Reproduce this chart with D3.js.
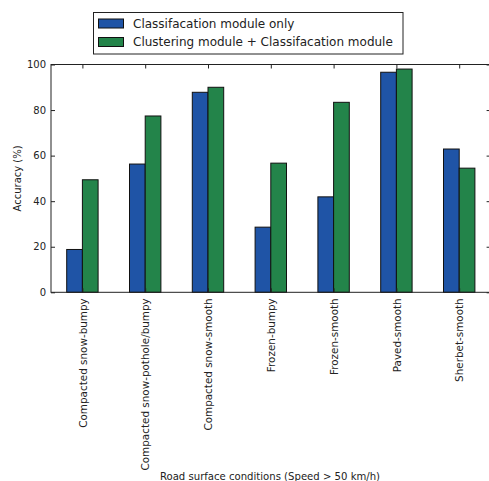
<!DOCTYPE html>
<html>
<head>
<meta charset="utf-8">
<script src="https://cdn.jsdelivr.net/npm/d3@7"></script>
<style>
  html, body { margin: 0; padding: 0; background: #fff; }
  svg { display: block; font-family: "DejaVu Sans", sans-serif; }
</style>
</head>
<body>
<svg id="chart" width="489" height="481"></svg>
<script>
// Road surface categories and accuracy (%) for each model setup
const categories = [
  "Compacted snow-bumpy",
  "Compacted snow-pothole/bumpy",
  "Compacted snow-smooth",
  "Frozen-bumpy",
  "Frozen-smooth",
  "Paved-smooth",
  "Sherbet-smooth"
];
const classificationOnly = [18.8, 56.3, 87.8, 28.6, 41.9, 96.6, 62.9];
const clusteringPlusClassification = [49.4, 77.4, 90.0, 56.7, 83.4, 98.0, 54.5];
const seriesNames = [
  "Classifacation module only",
  "Clustering module + Classifacation module"
];
const yTicks = [0, 20, 40, 60, 80, 100];

const colors = ["#1f54a6", "#23844a"];
const seriesValues = [classificationOnly, clusteringPlusClassification];

const svg = d3.select("#chart");
const margin = { left: 51, top: 64.5, right: 490.6, bottom: 292.3 };

const x = d3.scaleLinear().domain([-0.5, categories.length - 0.5])
  .range([margin.left, margin.right]);
const y = d3.scaleLinear().domain([0, 100]).range([margin.bottom, margin.top]);
const barW = x(0.25) - x(0);

// bars
seriesValues.forEach((vals, s) => {
  svg.append("g").selectAll("rect")
    .data(vals)
    .join("rect")
    .attr("x", (d, i) => x(i) + (s === 0 ? -barW : 0))
    .attr("y", d => y(d))
    .attr("width", barW)
    .attr("height", d => y(0) - y(d))
    .attr("fill", colors[s])
    .attr("stroke", "#111")
    .attr("stroke-width", 1);
});

// frame
svg.append("rect")
  .attr("x", margin.left).attr("y", margin.top)
  .attr("width", margin.right - margin.left)
  .attr("height", margin.bottom - margin.top)
  .attr("fill", "none").attr("stroke", "#222").attr("stroke-width", 1);

// left axis (ticks point inward)
const yAxis = d3.axisLeft(y).tickValues(yTicks).tickSizeInner(-4).tickSizeOuter(0).tickPadding(5);
const gy = svg.append("g").attr("transform", `translate(${margin.left},0)`).call(yAxis);
gy.select(".domain").remove();
gy.selectAll("text").attr("font-size", 10).attr("fill", "#222").attr("font-family", "DejaVu Sans");
gy.selectAll("line").attr("stroke", "#222");
// right axis ticks
const gyr = svg.append("g").attr("transform", `translate(${margin.right},0)`)
  .call(d3.axisRight(y).tickValues(yTicks).tickSizeInner(-4).tickSizeOuter(0).tickFormat(""));
gyr.select(".domain").remove();
gyr.selectAll("line").attr("stroke", "#222");

// top axis ticks
const gxt = svg.append("g").attr("transform", `translate(0,${margin.top})`)
  .call(d3.axisTop(x).tickValues(d3.range(categories.length)).tickSizeInner(-4).tickSizeOuter(0).tickFormat(""));
gxt.select(".domain").remove();
gxt.selectAll("line").attr("stroke", "#222");

// bottom axis with vertical category labels
const gx = svg.append("g").attr("transform", `translate(0,${margin.bottom})`)
  .call(d3.axisBottom(x).tickValues(d3.range(categories.length)).tickSizeInner(-4).tickSizeOuter(0)
    .tickFormat(i => categories[i]));
gx.select(".domain").remove();
gx.selectAll("line").attr("stroke", "#222");
gx.selectAll("text")
  .attr("font-size", 10.4).attr("fill", "#222").attr("font-family", "DejaVu Sans")
  .attr("text-anchor", "end")
  .attr("dy", "0.35em")
  .attr("transform", "translate(0,6) rotate(-90)")
  .attr("x", 0).attr("y", 0);

// axis titles
svg.append("text")
  .attr("transform", `translate(17,${(margin.top + margin.bottom) / 2}) rotate(-90)`)
  .attr("text-anchor", "middle").attr("dy", "0.35em")
  .attr("font-size", 10).attr("fill", "#222")
  .text("Accuracy (%)");
svg.append("text")
  .attr("x", 270).attr("y", 476)
  .attr("text-anchor", "middle").attr("dy", "0.35em")
  .attr("font-size", 10.1).attr("fill", "#222")
  .text("Road surface conditions (Speed > 50 km/h)");

// legend
const lg = svg.append("g");
lg.append("rect").attr("x", 93.5).attr("y", 12.5).attr("width", 309.5).attr("height", 41.5)
  .attr("fill", "#fff").attr("stroke", "#222").attr("stroke-width", 1);
seriesNames.forEach((name, i) => {
  const cy = 23.5 + i * 18.5;
  lg.append("rect").attr("x", 98.5).attr("y", cy - 4.5).attr("width", 25).attr("height", 9)
    .attr("fill", colors[i]).attr("stroke", "#111");
  lg.append("text").attr("x", 133).attr("y", cy).attr("dy", "0.35em")
    .attr("font-size", 12).attr("fill", "#222").text(name);
});
</script>
</body>
</html>
